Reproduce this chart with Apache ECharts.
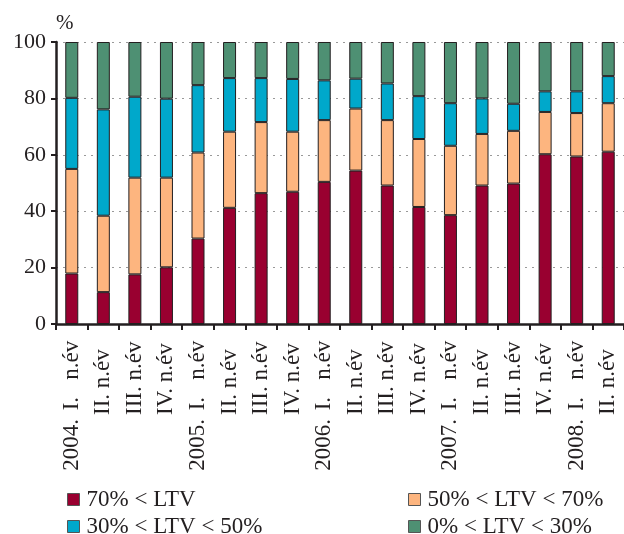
<!DOCTYPE html>
<html>
<head>
<meta charset="utf-8">
<script src="https://cdn.jsdelivr.net/npm/echarts@6/dist/echarts.min.js"></script>
<style>
html, body { margin: 0; padding: 0; background: #fff; }
#chart { width: 624px; height: 534px; }
</style>
</head>
<body>
<div id="chart"></div>
<script>
var years = ['2004.', '', '', '', '2005.', '', '', '', '2006.', '', '', '', '2007.', '', '', '', '2008.', ''];
var quarters = [
    'I.   n.év', 'II. n.év', 'III. n.év', 'IV. n.év',
    'I.   n.év', 'II. n.év', 'III. n.év', 'IV. n.év',
    'I.   n.év', 'II. n.év', 'III. n.év', 'IV. n.év',
    'I.   n.év', 'II. n.év', 'III. n.év', 'IV. n.év',
    'I.   n.év', 'II. n.év'
];
// az egyes LTV sávok részaránya (%)
var ltvOver70 = [17.9, 11.3, 17.6, 20.1, 30.3, 41.2, 46.4, 46.9, 50.4, 54.4, 49.1, 41.5, 38.6, 49.1, 49.8, 60.2, 59.4, 61.1];
var ltv50to70 = [37.1, 27.1, 34.3, 31.8, 30.5, 27.0, 25.2, 21.3, 21.9, 22.0, 23.2, 24.1, 24.6, 18.3, 18.7, 15.0, 15.4, 17.2];
var ltv30to50 = [25.2, 37.7, 28.7, 28.0, 23.9, 19.0, 15.6, 18.7, 14.1, 10.6, 13.0, 15.2, 15.1, 12.6, 9.6, 7.3, 7.7, 9.6];
var ltv0to30 = [19.8, 23.9, 19.4, 20.1, 15.3, 12.8, 12.8, 13.1, 13.6, 13.0, 14.7, 19.2, 21.7, 20.0, 21.9, 17.5, 17.5, 12.1];
var yTicks = [0, 20, 40, 60, 80, 100];

var names = ['70% < LTV', '50% < LTV < 70%', '30% < LTV < 50%', '0% < LTV < 30%'];
var colors = ['#990030', '#FDB57F', '#00A8CB', '#4E9073'];
var values = [ltvOver70, ltv50to70, ltv30to50, ltv0to30];

var font = '"Liberation Serif", "DejaVu Serif", serif';
var ink = '#231f20';

var categories = [];
for (var c = 0; c < quarters.length; c++) {
    categories.push(years[c] ? years[c] + ' ' + quarters[c] : quarters[c]);
}

var myChart = echarts.init(document.getElementById('chart'));

var series = [];
for (var i = 0; i < names.length; i++) {
    series.push({
        name: names[i],
        type: 'bar',
        stack: 'ltv',
        barWidth: 13,
        data: values[i],
        itemStyle: { color: colors[i], borderColor: ink, borderWidth: 1 }
    });
}

var legendBase = {
    orient: 'vertical',
    top: 488,
    height: 52,
    padding: 0,
    itemWidth: 12,
    itemHeight: 12,
    itemGap: 4,
    icon: 'rect',
    textStyle: { fontFamily: font, fontSize: 23, lineHeight: 22, color: ink, padding: [0, 0, 0, 2] },
    itemStyle: { borderColor: '#555', borderWidth: 1 }
};

var option = {
    animation: false,
    backgroundColor: '#fff',
    textStyle: { fontFamily: font },
    grid: { left: 56, right: -6, top: 42, bottom: 210 },
    legend: [
        Object.assign({}, legendBase, { left: 67, data: [names[0], names[2]] }),
        Object.assign({}, legendBase, { left: 408, data: [names[1], names[3]] })
    ],
    xAxis: {
        type: 'category',
        data: categories,
        axisLine: { lineStyle: { color: ink, width: 2.5 } },
        axisTick: { show: true, length: 6, lineStyle: { color: ink, width: 2 } },
        axisLabel: {
            rotate: 90, margin: 12, interval: 0,
            fontFamily: font, fontSize: 23, color: ink,
            formatter: function (value, idx) {
                var s = '';
                if (years[idx]) {
                    s += '{y|' + years[idx] + '}';
                }
                return s + '{q|' + quarters[idx] + '}';
            },
            rich: {
                y: { fontFamily: font, fontSize: 23, color: ink, padding: [0, 4, 0, 0] },
                q: { fontFamily: font, fontSize: 23, color: ink, width: 79, align: 'left' }
            }
        }
    },
    yAxis: {
        type: 'value',
        min: yTicks[0],
        max: yTicks[yTicks.length - 1],
        interval: 20,
        name: '%',
        nameGap: 8,
        nameTextStyle: { fontFamily: font, fontSize: 21, color: ink, align: 'left', padding: [0, 0, 0, 0] },
        axisLine: { show: true, lineStyle: { color: ink, width: 2.5 } },
        axisTick: { show: true, length: 5, lineStyle: { color: ink, width: 2 } },
        axisLabel: { fontFamily: font, fontSize: 22, color: ink, margin: 10 },
        splitLine: { lineStyle: { color: '#999', type: [2, 5], width: 1 } }
    },
    series: series
};

myChart.setOption(option);
</script>
</body>
</html>
